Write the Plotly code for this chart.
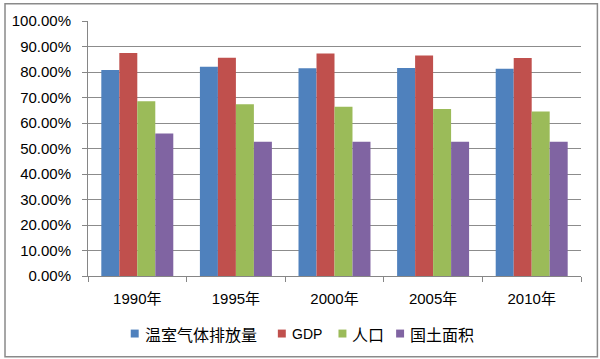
import plotly.graph_objects as go

categories = ["1990年", "1995年", "2000年", "2005年", "2010年"]
series_names = ["温室气体排放量", "GDP", "人口", "国土面积"]
ghg = [0.808, 0.821, 0.815, 0.816, 0.813]
gdp = [0.875, 0.856, 0.873, 0.865, 0.855]
population = [0.685, 0.674, 0.664, 0.655, 0.645]
land = [0.559, 0.526, 0.526, 0.526, 0.526]
colors = ["#4F81BD", "#C0504D", "#9BBB59", "#8064A2"]

fig = go.Figure()
for name, vals, c in zip(series_names, [ghg, gdp, population, land], colors):
    fig.add_trace(go.Bar(x=categories, y=vals, name=name, showlegend=False,
                         marker=dict(color=c, line=dict(width=0))))

W, H = 600, 359
ml, mr, mt, mb = 85, 19, 19, 83
pw, ph = W - ml - mr, H - mt - mb

def px_x(x):
    return (x - ml) / pw

def px_y(y):
    return (H - mb - y) / ph

fig.update_layout(
    width=W, height=H,
    margin=dict(l=ml, r=mr, t=mt, b=mb),
    paper_bgcolor="white", plot_bgcolor="white",
    barmode="group", bargap=0.27, bargroupgap=0,
    font=dict(family="Liberation Sans, Arial", size=15, color="#000000"),
    showlegend=False,
    xaxis=dict(showline=True, linecolor="#868686", linewidth=1, ticks="outside",
               tickson="boundaries", ticklen=5, tickcolor="#868686", ticklabelstandoff=9,
               tickfont=dict(family="Liberation Sans, Noto Sans CJK SC", size=15)),
    yaxis=dict(range=[0, 1.0], dtick=0.1, tickformat=".2%", showgrid=True,
               gridcolor="#8c8c8c", gridwidth=1, showline=True, linecolor="#868686",
               ticks="outside", ticklen=5, tickcolor="#868686", ticklabelstandoff=8,
               tickfont=dict(size=15)),
)

# outer chart border
fig.add_shape(type="rect", xref="paper", yref="paper",
              x0=px_x(1.5), x1=px_x(597.5), y0=px_y(357.5), y1=px_y(1.5),
              line=dict(color="#8a8a8a", width=1.5), fillcolor="rgba(0,0,0,0)", layer="below")

# manual legend (bottom)
leg_sq_x = [128, 276, 337, 395]
leg_y = 334
for name, c, sx in zip(series_names, colors, leg_sq_x):
    fig.add_shape(type="rect", xref="paper", yref="paper",
                  x0=px_x(sx), x1=px_x(sx + 8), y0=px_y(leg_y + 4), y1=px_y(leg_y - 4),
                  line=dict(width=0), fillcolor=c)
    fam = "Liberation Sans" if name == "GDP" else "Noto Sans CJK SC"
    size = 14 if name == "GDP" else 16
    fig.add_annotation(xref="paper", yref="paper", x=px_x(sx + 12), y=px_y(leg_y),
                       xanchor="left", yanchor="middle", text=name, showarrow=False,
                       font=dict(family=fam, size=size, color="#000000"))

fig.write_html("out.html", config={"displayModeBar": False},
               post_script="document.body.style.margin='0';")
